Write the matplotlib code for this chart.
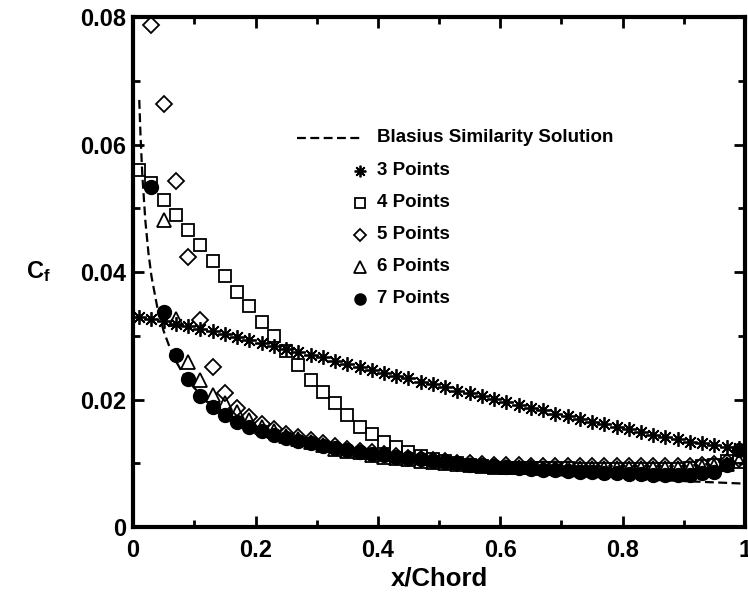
import matplotlib
matplotlib.use("Agg")
import matplotlib.pyplot as plt
import numpy as np

plt.rcParams['font.family'] = ['Liberation Sans', 'DejaVu Sans']
plt.rcParams['font.weight'] = 'bold'
plt.rcParams['mathtext.fontset'] = 'custom'
plt.rcParams['mathtext.bf'] = 'Liberation Sans:bold'
plt.rcParams['mathtext.rm'] = 'Liberation Sans:bold'

# x/Chord stations of the computed points (every 0.02)
x_pts = [round(0.01 + 0.02 * i, 2) for i in range(50)]

# Blasius similarity solution
x_blasius = [0.01, 0.012, 0.015, 0.02, 0.025, 0.03, 0.04, 0.05, 0.06, 0.07, 0.08,
             0.10, 0.12, 0.15, 0.20, 0.25, 0.30, 0.40, 0.50, 0.60, 0.70, 0.80, 0.90, 1.00]
cf_blasius = [0.0670, 0.0615, 0.0552, 0.0480, 0.0430, 0.0393, 0.0342, 0.0307, 0.0281,
              0.0260, 0.0243, 0.0218, 0.0199, 0.0177, 0.0153, 0.0137, 0.0125, 0.0108,
              0.0097, 0.0088, 0.0081, 0.0076, 0.0072, 0.0068]

cf_3 = [0.0330, 0.0327, 0.0323, 0.0319, 0.0315, 0.0311, 0.0307, 0.0302, 0.0298, 0.0293,
        0.0289, 0.0284, 0.0280, 0.0275, 0.0270, 0.0266, 0.0261, 0.0256, 0.0251, 0.0247,
        0.0242, 0.0237, 0.0233, 0.0228, 0.0224, 0.0219, 0.0214, 0.0210, 0.0205, 0.0201,
        0.0196, 0.0192, 0.0187, 0.0183, 0.0178, 0.0174, 0.0170, 0.0165, 0.0161, 0.0157,
        0.0153, 0.0149, 0.0145, 0.0141, 0.0138, 0.0134, 0.0131, 0.0128, 0.0126, 0.0124]

cf_4 = [0.0560, 0.0540, 0.0513, 0.0490, 0.0466, 0.0442, 0.0417, 0.0393, 0.0369, 0.0346,
        0.0322, 0.0300, 0.0276, 0.0254, 0.0230, 0.0212, 0.0194, 0.0176, 0.0157, 0.0146,
        0.0134, 0.0125, 0.0117, 0.0111, 0.0107, 0.0103, 0.0100, 0.0097, 0.0095, 0.0093,
        0.0093, 0.0092, 0.0092, 0.0092, 0.0092, 0.0092, 0.0091, 0.0091, 0.0091, 0.0091,
        0.0091, 0.0091, 0.0091, 0.0091, 0.0091, 0.0093, 0.0095, 0.0098, 0.0104, 0.0110]

x_5 = x_pts[1:]
cf_5 = [0.0787, 0.0664, 0.0543, 0.0424, 0.0325, 0.0251, 0.0210, 0.0186, 0.0172,
        0.0161, 0.0153, 0.0146, 0.0141, 0.0136, 0.0131, 0.0127, 0.0123, 0.0120, 0.0117,
        0.0114, 0.0111, 0.0109, 0.0107, 0.0105, 0.0103, 0.0101, 0.0100, 0.0099, 0.0098,
        0.0097, 0.0097, 0.0096, 0.0096, 0.0096, 0.0095, 0.0095, 0.0095, 0.0095, 0.0095,
        0.0095, 0.0095, 0.0095, 0.0095, 0.0095, 0.0096, 0.0097, 0.0099, 0.0102, 0.0106]

x_6 = x_pts[2:]
cf_6 = [0.0482, 0.0327, 0.0259, 0.0231, 0.0207, 0.0194, 0.0180, 0.0168,
        0.0157, 0.0150, 0.0143, 0.0138, 0.0133, 0.0128, 0.0123, 0.0120, 0.0117, 0.0113,
        0.0110, 0.0108, 0.0106, 0.0104, 0.0102, 0.0100, 0.0099, 0.0097, 0.0096, 0.0095,
        0.0094, 0.0094, 0.0094, 0.0093, 0.0093, 0.0093, 0.0093, 0.0092, 0.0092, 0.0092,
        0.0092, 0.0092, 0.0092, 0.0092, 0.0092, 0.0093, 0.0094, 0.0096, 0.0099, 0.0103]

x_7 = x_pts[1:]
cf_7 = [0.0533, 0.0338, 0.0270, 0.0232, 0.0205, 0.0189, 0.0176, 0.0165, 0.0157,
        0.0150, 0.0144, 0.0139, 0.0135, 0.0131, 0.0127, 0.0124, 0.0121, 0.0118, 0.0115,
        0.0113, 0.0110, 0.0108, 0.0106, 0.0104, 0.0102, 0.0100, 0.0098, 0.0097, 0.0095,
        0.0094, 0.0092, 0.0091, 0.0090, 0.0089, 0.0088, 0.0087, 0.0086, 0.0085, 0.0084,
        0.0083, 0.0083, 0.0082, 0.0082, 0.0082, 0.0082, 0.0084, 0.0087, 0.0097, 0.0121]

x_ticks = [0, 0.2, 0.4, 0.6, 0.8, 1.0]
x_labels = ['0', '0.2', '0.4', '0.6', '0.8', '1']
y_ticks = [0, 0.02, 0.04, 0.06, 0.08]
y_labels = ['0', '0.02', '0.04', '0.06', '0.08']

labels = ['Blasius Similarity Solution', '3 Points', '4 Points', '5 Points', '6 Points', '7 Points']

asterisk = (8, 2, 0)
styles = [
    dict(marker=asterisk, ms=10.5, mew=1.3, mfc='none'),
    dict(marker='s', ms=9, mew=1.3, mfc='none'),
    dict(marker='D', ms=8, mew=1.3, mfc='none'),
    dict(marker='^', ms=10.5, mew=1.3, mfc='none'),
    dict(marker='o', ms=10, mew=1.0, mfc='black'),
]

fig = plt.figure(figsize=(7.48, 5.95), dpi=100)
ax = fig.add_axes([0.178, 0.1143, 0.818, 0.857])

ax.plot(x_blasius, cf_blasius, color='black', lw=1.6, ls=(0, (4, 2)))
series = [(x_pts, cf_3), (x_pts, cf_4), (x_5, cf_5), (x_6, cf_6), (x_7, cf_7)]
for (xs, ys), st in zip(series, styles):
    ax.plot(xs, ys, ls='none', color='black', mec='black', **st)

ax.set_xlim(0, 1)
ax.set_ylim(0, 0.08)
ax.set_xticks(x_ticks)
ax.set_xticklabels(x_labels)
ax.set_yticks(y_ticks)
ax.set_yticklabels(y_labels)
ax.set_xticks(np.arange(0.1, 1.0, 0.2), minor=True)
ax.set_yticks(np.arange(0.01, 0.08, 0.02), minor=True)
ax.tick_params(which='both', direction='in', top=True, right=True, width=2, labelsize=17)
ax.tick_params(which='major', length=8)
ax.tick_params(which='minor', length=5)
ax.tick_params(axis='x', pad=9)
ax.tick_params(axis='y', pad=5)
for sp in ax.spines.values():
    sp.set_linewidth(3)

ax.set_xlabel('x/Chord', fontsize=18.5, fontweight='bold', labelpad=3)
ax.set_ylabel(r'$\mathbf{C_f}$', fontsize=17, rotation=0, labelpad=20, va='center')
ax.yaxis.set_label_coords(-0.155, 0.5)

# key, drawn by hand in axes fractions
row_h = 0.0627
ky = 0.763
ax.plot([0.268, 0.376], [ky, ky], color='black', lw=1.6, ls=(0, (4, 2)),
        transform=ax.transAxes, clip_on=False)
ax.text(0.399, ky, labels[0], transform=ax.transAxes, va='center', ha='left',
        fontsize=13.5, fontweight='bold')
for i, st in enumerate(styles):
    yy = ky - row_h * (i + 1) - 0.002
    kst = dict(st)
    kst['ms'] = st['ms'] * 0.8
    ax.plot([0.371], [yy], ls='none', color='black', mec='black',
            transform=ax.transAxes, clip_on=False, **kst)
    ax.text(0.399, yy, labels[i + 1], transform=ax.transAxes, va='center', ha='left',
            fontsize=13.5, fontweight='bold')

fig.savefig('out.png', dpi=100)
